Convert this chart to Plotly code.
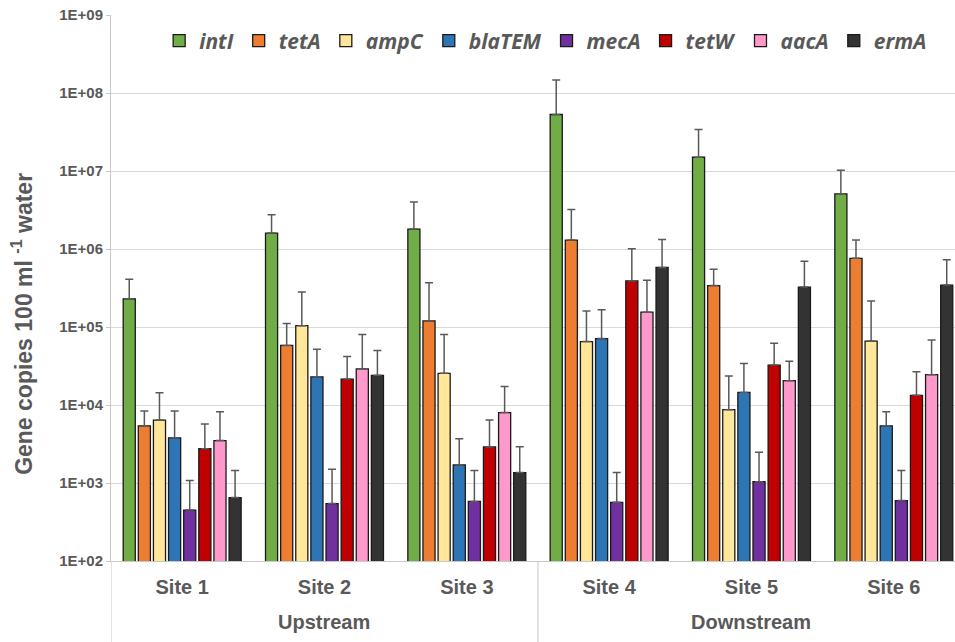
import plotly.graph_objects as go

# Sampling sites and their reach (upstream / downstream)
sites = ["Site 1", "Site 2", "Site 3", "Site 4", "Site 5", "Site 6"]
reach_labels = ["Upstream", "Downstream"]
reach_sizes = [3, 3]

genes = ["intI", "tetA", "ampC", "blaTEM", "mecA", "tetW", "aacA", "ermA"]
colors = ["#70AD47", "#ED7D31", "#FFE699", "#2E75B6", "#7030A0", "#C00000", "#FF99CC", "#333333"]

# Mean gene copies per 100 ml water, per site
intI   = [2.3e5, 1.6e6, 1.8e6, 5.3e7, 1.5e7, 5.1e6]
tetA   = [5.4e3, 5.8e4, 1.2e5, 1.3e6, 3.4e5, 7.6e5]
ampC   = [6.4e3, 1.04e5, 2.55e4, 6.5e4, 8.7e3, 6.6e4]
blaTEM = [3.8e3, 2.3e4, 1.7e3, 7.1e4, 1.45e4, 5.4e3]
mecA   = [450, 545, 580, 565, 1040, 595]
tetW   = [2.75e3, 2.15e4, 2.9e3, 3.9e5, 3.25e4, 1.33e4]
aacA   = [3.5e3, 2.9e4, 8.0e3, 1.55e5, 2.05e4, 2.45e4]
ermA   = [650, 2.4e4, 1.36e3, 5.8e5, 3.25e5, 3.45e5]

# Upper end of the error bar (mean + SD), per site
intI_hi   = [4.1e5, 2.75e6, 4.0e6, 1.47e8, 3.4e7, 1.02e7]
tetA_hi   = [8.4e3, 1.11e5, 3.7e5, 3.2e6, 5.5e5, 1.3e6]
ampC_hi   = [1.44e4, 2.8e5, 8.0e4, 1.6e5, 2.35e4, 2.15e5]
blaTEM_hi = [8.4e3, 5.2e4, 3.7e3, 1.67e5, 3.4e4, 8.2e3]
mecA_hi   = [1.08e3, 1.5e3, 1.45e3, 1.36e3, 2.47e3, 1.45e3]
tetW_hi   = [5.7e3, 4.2e4, 6.4e3, 1.01e6, 6.2e4, 2.67e4]
aacA_hi   = [8.2e3, 8.0e4, 1.73e4, 3.97e5, 3.63e4, 6.8e4]
ermA_hi   = [1.45e3, 5.0e4, 2.92e3, 1.32e6, 6.95e5, 7.3e5]

means = [intI, tetA, ampC, blaTEM, mecA, tetW, aacA, ermA]
uppers = [intI_hi, tetA_hi, ampC_hi, blaTEM_hi, mecA_hi, tetW_hi, aacA_hi, ermA_hi]

ytickvals = [1e2, 1e3, 1e4, 1e5, 1e6, 1e7, 1e8, 1e9]
yticktext = ["1E+02", "1E+03", "1E+04", "1E+05", "1E+06", "1E+07", "1E+08", "1E+09"]

GREY = "#595959"
AXIS_GREY = "#c8c8c8"
SANS = "Liberation Sans, Arial, sans-serif"

fig = go.Figure()
for name, col, m, hi in zip(genes, colors, means, uppers):
    fig.add_trace(go.Bar(
        x=sites,
        y=m,
        name=name,
        marker=dict(color=col, line=dict(color="#1a1a1a", width=1.3)),
        error_y=dict(
            type="data",
            symmetric=False,
            array=[h - v for h, v in zip(hi, m)],
            arrayminus=[0] * len(m),
            color=GREY,
            thickness=1.5,
            width=4,
        ),
    ))

# Reach labels under the site labels, with dividers between the reaches
annotations = []
shapes = []
start = 0
for label, n in zip(reach_labels, reach_sizes):
    annotations.append(dict(
        x=start + (n - 1) / 2, xref="x",
        y=-0.112, yref="paper",
        text=label, showarrow=False,
        xanchor="center", yanchor="middle",
        font=dict(family=SANS, size=20, color=GREY, weight="bold"),
    ))
    shapes.append(dict(
        type="line", xref="x", yref="paper",
        x0=start - 0.5, x1=start - 0.5, y0=0, y1=-0.16,
        line=dict(color=AXIS_GREY, width=1),
    ))
    start += n

# Y-axis title placed as a rotated annotation
annotations.append(dict(
    x=-0.105, xref="paper",
    y=0.435, yref="paper",
    text="Gene copies 100 ml <sup>-1</sup> water",
    textangle=-90, showarrow=False,
    xanchor="center", yanchor="middle",
    font=dict(family=SANS, size=23, color=GREY, weight="bold"),
))

fig.update_layout(
    width=955,
    height=642,
    margin=dict(l=111, r=0, t=15, b=81),
    paper_bgcolor="white",
    plot_bgcolor="white",
    barmode="group",
    bargap=0.15,
    bargroupgap=0.2,
    font=dict(family=SANS, color=GREY),
    annotations=annotations,
    shapes=shapes,
    legend=dict(
        orientation="h",
        x=0.515,
        xanchor="center",
        y=0.99,
        yanchor="top",
        font=dict(family="Open Sans, sans-serif", size=21, color=GREY,
                  weight="bold", style="italic"),
        itemwidth=30,
        bgcolor="rgba(0,0,0,0)",
    ),
    xaxis=dict(
        type="category",
        range=[-0.5, 5.43],
        showline=True,
        linecolor=AXIS_GREY,
        linewidth=1,
        ticks="",
        ticklabelstandoff=8,
        tickfont=dict(family=SANS, size=20, color=GREY, weight="bold"),
        showgrid=False,
    ),
    yaxis=dict(
        type="log",
        range=[2, 9],
        tickvals=ytickvals,
        ticktext=yticktext,
        showgrid=True,
        gridcolor="#d9d9d9",
        gridwidth=1.3,
        showline=True,
        linecolor=AXIS_GREY,
        linewidth=1,
        ticks="outside",
        ticklen=4,
        tickcolor=AXIS_GREY,
        tickfont=dict(family=SANS, size=15, color=GREY, weight="bold"),
        zeroline=False,
    ),
)

fig.write_html("out.html")
